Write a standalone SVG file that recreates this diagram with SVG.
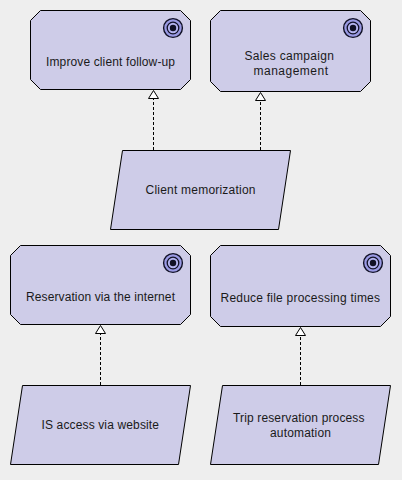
<svg xmlns="http://www.w3.org/2000/svg" width="402" height="480" viewBox="0 0 402 480">
<defs>
<g id="goal"><circle r="9.400" fill="#9a9ae4" stroke="#111126" stroke-width="1.400"/><circle r="5.800" fill="#b4b4f0" stroke="#111126" stroke-width="1.300"/><circle r="3.200" fill="#111126"/></g>
</defs>
<style>
.n{fill:#cecce8;stroke:#000;stroke-width:1}
.l{font:12px "Liberation Sans",Arial,sans-serif;fill:#1a1a1a;text-anchor:start}
.c{fill:none;stroke:#000;stroke-width:1;stroke-dasharray:3 2}
.a{fill:#fff;stroke:#000;stroke-width:1}
</style>
<rect width="402" height="480" fill="#eeeeee"/>
<g id="connectors">
<path class="c" d="M153.500 150V99"/><path class="a" d="M153.500 90.500L158.500 98.500H148.500Z"/>
<path class="c" d="M260.500 150V101"/><path class="a" d="M260.500 92.500L265.500 100.500H255.500Z"/>
<path class="c" d="M100.500 385V334"/><path class="a" d="M100.500 325.500L105.500 333.500H95.500Z"/>
<path class="c" d="M300.500 385V336"/><path class="a" d="M300.500 327.500L305.500 335.500H295.500Z"/>
</g>
<g id="n1"><path class="n" d="M40.500 10.500H180.500L190.500 20.500V79.500L180.500 89.500H40.500L30.500 79.500V20.500Z"/><use href="#goal" x="173" y="28"/><text class="l" x="46" y="66" textLength="129">Improve client follow-up</text></g>
<g id="n2"><path class="n" d="M220.500 10.500H360.500L370.500 20.500V81.500L360.500 91.500H220.500L210.500 81.500V20.500Z"/><use href="#goal" x="353" y="28"/><text class="l" x="244.500" y="60" textLength="89.500">Sales campaign</text><text class="l" x="253.500" y="75" textLength="74.500">management</text></g>
<g id="n3"><path class="n" d="M122.500 150.500H290.500L278.500 229.500H110.500Z"/><text class="l" x="145.500" y="194" textLength="110">Client memorization</text></g>
<g id="n4"><path class="n" d="M20.500 245.500H180.500L190.500 255.500V314.500L180.500 324.500H20.500L10.500 314.500V255.500Z"/><use href="#goal" x="173" y="263"/><text class="l" x="26" y="301" textLength="149">Reservation via the internet</text></g>
<g id="n5"><path class="n" d="M220.500 245.500H380.500L390.500 255.500V316.500L380.500 326.500H220.500L210.500 316.500V255.500Z"/><use href="#goal" x="373" y="263"/><text class="l" x="220.500" y="302" textLength="159.500">Reduce file processing times</text></g>
<g id="n6"><path class="n" d="M22.500 385.500H190.500L178.500 464.500H10.500Z"/><text class="l" x="41.500" y="429" textLength="117.500">IS access via website</text></g>
<g id="n7"><path class="n" d="M222.500 385.500H390.500L378.500 464.500H210.500Z"/><text class="l" x="233" y="422" textLength="131.500">Trip reservation process</text><text class="l" x="270" y="437" textLength="61">automation</text></g>
</svg>
